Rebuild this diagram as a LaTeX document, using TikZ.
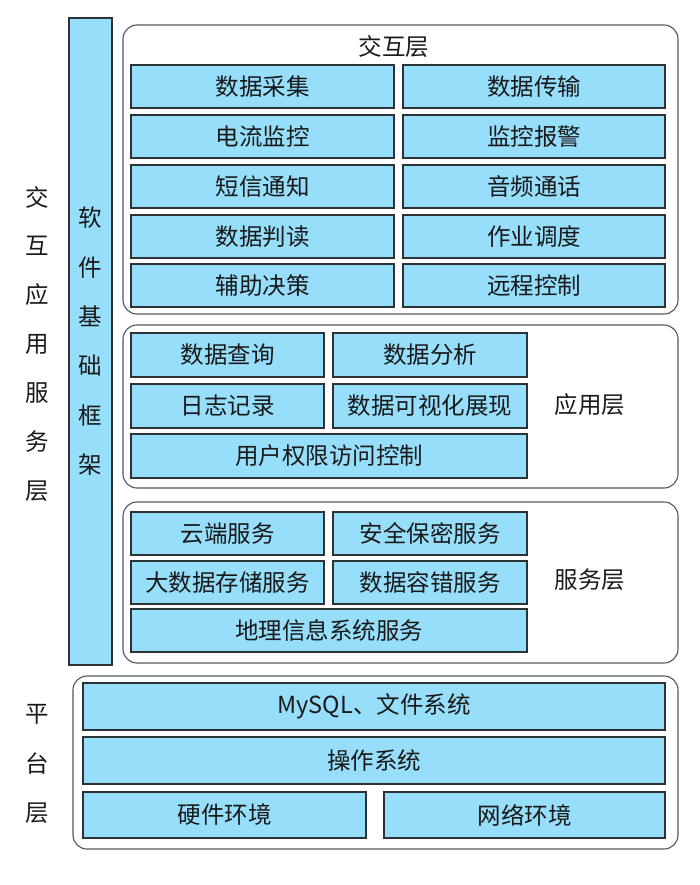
\documentclass[tikz,border=0pt]{standalone}
\usepackage{fontspec}
\setmainfont{Noto Sans CJK SC}
\newfontfamily\cjk{Noto Sans CJK SC}
\definecolor{boxblue}{RGB}{151,222,251}
\definecolor{boxline}{RGB}{45,50,55}
\definecolor{outerline}{RGB}{80,88,95}
\definecolor{txt}{RGB}{25,25,25}
\tikzset{
  box/.style={draw=boxline, fill=boxblue, line width=1.1pt, inner sep=0pt, outer sep=0pt,
    font=\cjk\fontsize{23.5}{23.5}\selectfont, text=txt},
  outerbox/.style={draw=outerline, line width=1.1pt, rounded corners=14pt, inner sep=0pt, outer sep=0pt},
  lbl/.style={font=\cjk\fontsize{23.5}{23.5}\selectfont, text=txt, inner sep=0pt},
}
\newcommand\bx[6]{\node[box, minimum width={#4-#2}, minimum height={#5-#3}] (#1) at ({(#2+#4)/2},{(#3+#5)/2}) {#6};}
\newcommand\ob[5]{\node[outerbox, minimum width={#4-#2}, minimum height={#5-#3}] (#1) at ({(#2+#4)/2},{(#3+#5)/2}) {};}
\begin{document}
\begin{tikzpicture}[x=1pt,y=-1pt]
\useasboundingbox (0,0) rectangle (700,885);
% outer frames
\ob{inter}{123}{25}{678}{314}
\ob{app}{123}{325}{678}{488}
\ob{serv}{123}{502}{678}{663}
\ob{plat}{73}{676}{678}{849}
% software framework bar
\node[box, minimum width=43, minimum height=647] (soft) at (90.5,341.5) {};
\foreach \c [count=\i from 0] in {软,件,基,础,框,架}
  \node[lbl] (s\i) at (90.5,{218+49.3*\i}) {\c};
% left labels
\foreach \c [count=\i from 0] in {交,互,应,用,服,务,层}
  \node[lbl] (l\i) at (37,{197+49*\i}) {\c};
\foreach \c [count=\i from 0] in {平,台,层}
  \node[lbl] (p\i) at (37,{714+49.5*\i}) {\c};
% 交互层
\node[lbl] (tinter) at (394,47) {交互层};
\bx{a1}{131}{65}{394}{108}{数据采集}
\bx{a2}{403}{65}{665}{108}{数据传输}
\bx{b1}{131}{115}{394}{158}{电流监控}
\bx{b2}{403}{115}{665}{158}{监控报警}
\bx{c1}{131}{165}{394}{208}{短信通知}
\bx{c2}{403}{165}{665}{208}{音频通话}
\bx{d1}{131}{215}{394}{258}{数据判读}
\bx{d2}{403}{215}{665}{258}{作业调度}
\bx{e1}{131}{264}{394}{307}{辅助决策}
\bx{e2}{403}{264}{665}{307}{远程控制}
% 应用层
\bx{f1}{131}{333}{324}{377}{数据查询}
\bx{f2}{333}{333}{527}{377}{数据分析}
\bx{g1}{131}{384}{324}{428}{日志记录}
\bx{g2}{333}{384}{527}{428}{数据可视化展现}
\bx{h1}{131}{434}{527}{478}{用户权限访问控制}
\node[lbl] (tapp) at (590,405) {应用层};
% 服务层
\bx{i1}{131}{512}{324}{555}{云端服务}
\bx{i2}{333}{512}{527}{555}{安全保密服务}
\bx{j1}{131}{561}{324}{604}{大数据存储服务}
\bx{j2}{333}{561}{527}{604}{数据容错服务}
\bx{k1}{131}{609}{527}{652}{地理信息系统服务}
\node[lbl] (tserv) at (590,580) {服务层};
% 平台层
\bx{m1}{83}{683}{665}{730}{MySQL、文件系统}
\bx{m2}{83}{737}{665}{784}{操作系统}
\bx{m3}{83}{792}{366}{838}{硬件环境}
\bx{m4}{384}{792}{665}{838}{网络环境}
\end{tikzpicture}
\end{document}
